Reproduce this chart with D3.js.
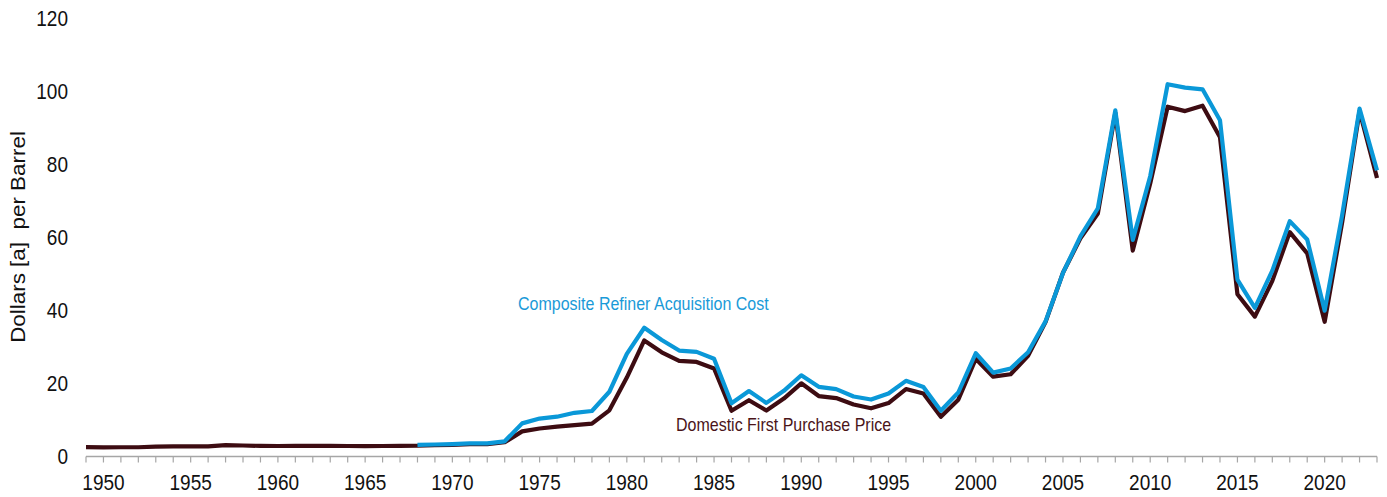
<!DOCTYPE html>
<meta charset="utf-8">
<style>
    body { margin: 0; background: #fff; }
    svg { display: block; font-family: "Liberation Sans", Arial, sans-serif; }
    .axis-line { stroke: #a6a6a6; stroke-width: 1.5; }
    .tick-mark { stroke: #a6a6a6; stroke-width: 1.2; }
    .lbl { fill: #111; font-size: 19px; }
</style>
<body>
<svg width="1387" height="497"></svg>
<script src="https://d3js.org/d3.v7.min.js"></script>
<script>
    // domestic first purchase price, 1949-2023 ($ per barrel)
    var domesticStart = 1949;
    var domestic = [
        2.54, 2.51, 2.53, 2.53, 2.68, 2.78, 2.77, 2.79, 3.09, 3.01,
        2.90, 2.88, 2.89, 2.90, 2.89, 2.88, 2.86, 2.88, 2.92, 2.94,
        3.09, 3.18, 3.39, 3.39, 3.89, 6.87, 7.67, 8.19, 8.57, 9.00,
        12.64, 21.59, 31.77, 28.52, 26.19, 25.88, 24.09, 12.51, 15.40, 12.58,
        15.86, 20.03, 16.54, 15.99, 14.25, 13.19, 14.62, 18.46, 17.23, 10.87,
        15.56, 26.72, 21.84, 22.51, 27.56, 36.77, 50.28, 59.69, 66.52, 94.04,
        56.35, 74.71, 95.73, 94.52, 95.99, 87.39, 44.39, 38.29, 48.05, 61.40,
        55.59, 36.86, 64.0, 94.5, 76.2
    ];
    // composite refiner acquisition cost, 1968-2023
    var refinerStart = 1968;
    var refiner = [
        3.17, 3.29, 3.40, 3.60, 3.58, 4.15, 9.07, 10.38, 10.89, 11.96,
        12.46, 17.72, 28.07, 35.24, 31.87, 28.99, 28.63, 26.75, 14.55, 17.90,
        14.67, 17.97, 22.22, 19.06, 18.43, 16.41, 15.59, 17.23, 20.71, 19.04,
        12.52, 17.51, 28.26, 22.95, 24.10, 28.53, 36.98, 50.24, 60.24, 67.94,
        94.74, 59.29, 76.69, 101.87, 100.93, 100.49, 92.02, 48.40, 40.68, 50.88,
        64.40, 59.40, 39.90, 66.0, 95.2, 78.3
    ];
    var yTicks = [0, 20, 40, 60, 80, 100, 120];
    var xLabels = [1950, 1955, 1960, 1965, 1970, 1975, 1980, 1985, 1990, 1995, 2000, 2005, 2010, 2015, 2020];

    var svg = d3.select("svg");
    var x = d3.scaleLinear().domain([1949, 2023]).range([86, 1377]);
    var y = d3.scaleLinear().domain([0, 120]).range([456.5, 18]);
    var stretch = 1.13; // text in the picture is a bit taller than wide

    function toPoints(arr, start) {
        return arr.map(function (v, i) { return { year: start + i, value: v }; });
    }

    // x axis: line + a tick every year
    svg.append("line").attr("class", "axis-line")
        .attr("x1", x(1949)).attr("x2", x(2023))
        .attr("y1", y(0)).attr("y2", y(0));

    svg.selectAll(".tick-mark")
        .data(d3.range(1949, 2024))
        .enter().append("line")
        .attr("class", "tick-mark")
        .attr("x1", function (d) { return x(d); })
        .attr("x2", function (d) { return x(d); })
        .attr("y1", y(0))
        .attr("y2", y(0) + 6);

    svg.selectAll(".xlbl")
        .data(xLabels)
        .enter().append("text")
        .attr("class", "lbl xlbl")
        .attr("text-anchor", "middle")
        .attr("transform", function (d) { return "translate(" + x(d) + ",490) scale(1," + stretch + ")"; })
        .text(function (d) { return d; });

    // y labels, no axis line
    svg.selectAll(".ylbl")
        .data(yTicks)
        .enter().append("text")
        .attr("class", "lbl ylbl")
        .attr("text-anchor", "end")
        .attr("dy", "0.36em")
        .attr("transform", function (d) { return "translate(68," + y(d) + ") scale(1," + stretch + ")"; })
        .text(function (d) { return d; });

    svg.append("text")
        .attr("class", "lbl")
        .attr("text-anchor", "middle")
        .style("font-size", "19.5px")
        .attr("transform", "translate(25,237) rotate(-90) scale(1.15,1)")
        .text("Dollars [a]\u00a0 per Barrel");

    var line = d3.line()
        .x(function (d) { return x(d.year); })
        .y(function (d) { return y(d.value); });

    svg.append("path")
        .datum(toPoints(domestic, domesticStart))
        .attr("fill", "none")
        .attr("stroke", "#3d0c12")
        .attr("stroke-width", 4.2)
        .attr("stroke-linejoin", "round")
        .attr("d", line);

    svg.append("path")
        .datum(toPoints(refiner, refinerStart))
        .attr("fill", "none")
        .attr("stroke", "#0a98d8")
        .attr("stroke-width", 4.2)
        .attr("stroke-linejoin", "round")
        .attr("d", line);

    svg.append("text")
        .attr("font-size", "16px")
        .attr("fill", "#1a9ad8")
        .attr("transform", "translate(518,310) scale(1,1.15)")
        .text("Composite Refiner Acquisition Cost");

    svg.append("text")
        .attr("font-size", "16px")
        .attr("fill", "#4a1419")
        .attr("transform", "translate(676,431) scale(1,1.15)")
        .text("Domestic First Purchase Price");
</script>
</body>
